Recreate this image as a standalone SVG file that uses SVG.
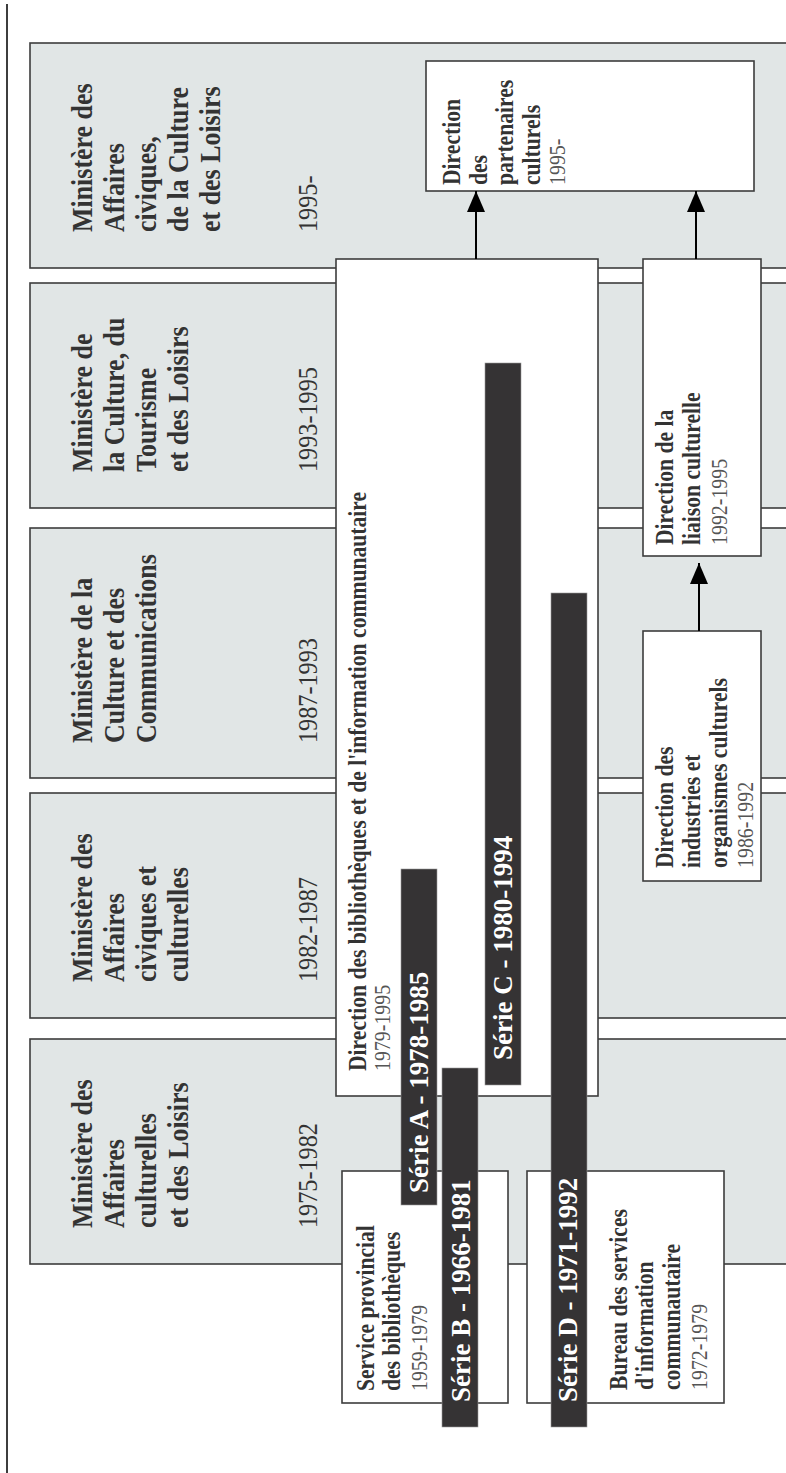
<svg xmlns="http://www.w3.org/2000/svg" width="786" height="1473" viewBox="0 0 786 1473">
<defs>
<style>
.panel{fill:#e1e6e6;stroke:#3d3d3d;stroke-width:1.6}
.box{fill:#ffffff;stroke:#3d3d3d;stroke-width:1.6}
.bar{fill:#353334;stroke:#9a9a9a;stroke-width:0.6}
text{font-family:"Liberation Serif","DejaVu Serif",serif}
.min{font-size:30px;font-weight:bold;fill:#333}
.yr{font-size:28px;fill:#333}
.bt{font-size:25px;font-weight:bold;fill:#333}
.by{font-size:23px;fill:#555}
.st{font-size:27px;font-weight:bold;fill:#ffffff}
.conn{stroke:#000;stroke-width:2;fill:none}
</style>
<marker id="arr" markerUnits="userSpaceOnUse" markerWidth="21" markerHeight="18" refX="21" refY="9" orient="auto">
<path d="M0,0 L21,9 L0,18 z" fill="#000"/>
</marker>
</defs>
<rect width="786" height="1473" fill="#ffffff"/>
<line x1="7" y1="4" x2="7" y2="1473" stroke="#3d3d3d" stroke-width="2"/>

<g id="min-1995">
<rect class="panel" x="30" y="43" width="800" height="225"/>
<g transform="translate(92,232) rotate(-90) scale(0.865,1)">
<text class="min" x="0" y="0">Ministère des</text>
<text class="min" x="0" y="32">Affaires</text>
<text class="min" x="0" y="64">civiques,</text>
<text class="min" x="0" y="96">de la Culture</text>
<text class="min" x="0" y="128">et des Loisirs</text>
</g>
<text class="yr" transform="translate(317,232) rotate(-90) scale(0.865,1)">1995-</text>
</g>

<g id="min-1993">
<rect class="panel" x="30" y="283" width="800" height="225"/>
<g transform="translate(92,472) rotate(-90) scale(0.865,1)">
<text class="min" x="0" y="0">Ministère de</text>
<text class="min" x="0" y="32">la Culture, du</text>
<text class="min" x="0" y="64">Tourisme</text>
<text class="min" x="0" y="96">et des Loisirs</text>
</g>
<text class="yr" transform="translate(317,472) rotate(-90) scale(0.865,1)">1993-1995</text>
</g>

<g id="min-1987">
<rect class="panel" x="30" y="528" width="800" height="250"/>
<g transform="translate(92,743) rotate(-90) scale(0.865,1)">
<text class="min" x="0" y="0">Ministère de la</text>
<text class="min" x="0" y="32">Culture et des</text>
<text class="min" x="0" y="64">Communications</text>
</g>
<text class="yr" transform="translate(317,743) rotate(-90) scale(0.865,1)">1987-1993</text>
</g>

<g id="min-1982">
<rect class="panel" x="30" y="793" width="800" height="225"/>
<g transform="translate(92,982) rotate(-90) scale(0.865,1)">
<text class="min" x="0" y="0">Ministère des</text>
<text class="min" x="0" y="32">Affaires</text>
<text class="min" x="0" y="64">civiques et</text>
<text class="min" x="0" y="96">culturelles</text>
</g>
<text class="yr" transform="translate(317,982) rotate(-90) scale(0.865,1)">1982-1987</text>
</g>

<g id="min-1975">
<rect class="panel" x="30" y="1039" width="800" height="225"/>
<g transform="translate(92,1228) rotate(-90) scale(0.865,1)">
<text class="min" x="0" y="0">Ministère des</text>
<text class="min" x="0" y="32">Affaires</text>
<text class="min" x="0" y="64">culturelles</text>
<text class="min" x="0" y="96">et des Loisirs</text>
</g>
<text class="yr" transform="translate(317,1228) rotate(-90) scale(0.865,1)">1975-1982</text>
</g>

<g id="dir-bibliotheques">
<rect class="box" x="336" y="259" width="262" height="837"/>
<g transform="translate(366,1071) rotate(-90) scale(0.865,1)">
<text class="bt" x="0" y="0">Direction des bibliothèques et de l'information communautaire</text>
<text class="by" x="0" y="24">1979-1995</text>
</g>
</g>

<g id="dir-partenaires">
<rect class="box" x="426" y="61" width="328" height="130"/>
<g transform="translate(460,185) rotate(-90) scale(0.865,1)">
<text class="bt" x="0" y="0">Direction</text>
<text class="bt" x="0" y="27">des</text>
<text class="bt" x="0" y="53">partenaires</text>
<text class="bt" x="0" y="80">culturels</text>
<text class="by" x="0" y="105">1995-</text>
</g>
</g>

<g id="dir-liaison">
<rect class="box" x="643" y="259" width="118" height="297"/>
<g transform="translate(673,545) rotate(-90) scale(0.865,1)">
<text class="bt" x="0" y="0">Direction de la</text>
<text class="bt" x="0" y="27">liaison culturelle</text>
<text class="by" x="0" y="54">1992-1995</text>
</g>
</g>

<g id="dir-industries">
<rect class="box" x="643" y="631" width="118" height="250"/>
<g transform="translate(673,868) rotate(-90) scale(0.865,1)">
<text class="bt" x="0" y="0">Direction des</text>
<text class="bt" x="0" y="27">industries et</text>
<text class="bt" x="0" y="54">organismes culturels</text>
<text class="by" x="0" y="80">1986-1992</text>
</g>
</g>

<g id="service-provincial">
<rect class="box" x="342" y="1171" width="166" height="232"/>
<g transform="translate(374,1391) rotate(-90) scale(0.865,1)">
<text class="bt" x="0" y="0">Service provincial</text>
<text class="bt" x="0" y="26">des bibliothèques</text>
<text class="by" x="0" y="53">1959-1979</text>
</g>
</g>

<g id="bureau-services">
<rect class="box" x="527" y="1171" width="197" height="232"/>
<g transform="translate(627,1390) rotate(-90) scale(0.865,1)">
<text class="bt" x="0" y="0">Bureau des services</text>
<text class="bt" x="0" y="26">d'information</text>
<text class="bt" x="0" y="53">communautaire</text>
<text class="by" x="0" y="80">1972-1979</text>
</g>
</g>

<g id="connectors">
<line class="conn" x1="476" y1="259" x2="476" y2="191" marker-end="url(#arr)"/>
<line class="conn" x1="696" y1="259" x2="696" y2="191" marker-end="url(#arr)"/>
<line class="conn" x1="699" y1="631" x2="699" y2="563" marker-end="url(#arr)"/>
</g>

<g id="serie-a">
<rect class="bar" x="401" y="869" width="36" height="336"/>
<text class="st" transform="translate(428,1193) rotate(-90)">Série A - 1978-1985</text>
</g>
<g id="serie-b">
<rect class="bar" x="442" y="1068" width="36" height="359"/>
<text class="st" transform="translate(470,1402) rotate(-90)">Série B - 1966-1981</text>
</g>
<g id="serie-c">
<rect class="bar" x="485" y="363" width="36" height="722"/>
<text class="st" transform="translate(512,1060) rotate(-90)">Série C - 1980-1994</text>
</g>
<g id="serie-d">
<rect class="bar" x="551" y="593" width="36" height="834"/>
<text class="st" transform="translate(577,1402) rotate(-90)">Série D - 1971-1992</text>
</g>
</svg>
